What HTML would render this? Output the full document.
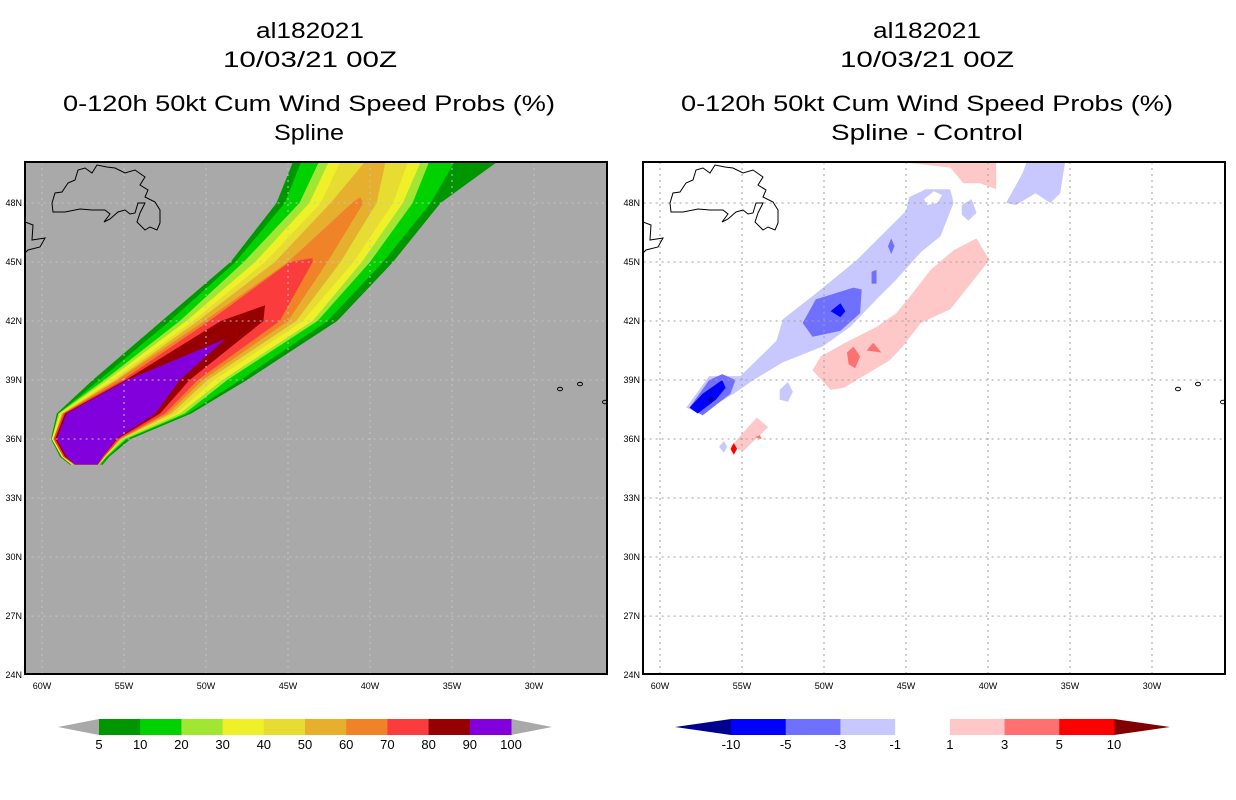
<!DOCTYPE html>
<html><head><meta charset="utf-8">
<style>
html,body{margin:0;padding:0;background:#fff;}
svg{display:block;font-family:"Liberation Sans",sans-serif;}
</style></head>
<body>
<svg id="fig" width="1236" height="800" viewBox="0 0 1236 800" xmlns="http://www.w3.org/2000/svg">
<defs>
<clipPath id="clipL"><rect x="25" y="162" width="582" height="512"/></clipPath>
<clipPath id="clipR"><rect x="643" y="162" width="582" height="512"/></clipPath>
</defs>
<g font-size="22" fill="#000" text-anchor="middle">
<text x="310" y="38" textLength="108" lengthAdjust="spacingAndGlyphs">al182021</text>
<text x="310" y="67" textLength="174" lengthAdjust="spacingAndGlyphs">10/03/21 00Z</text>
<text x="309" y="111" textLength="492" lengthAdjust="spacingAndGlyphs">0-120h 50kt Cum Wind Speed Probs (%)</text>
<text x="309" y="140" textLength="70" lengthAdjust="spacingAndGlyphs">Spline</text>
</g>
<g font-size="22" fill="#000" text-anchor="middle">
<text x="927" y="38" textLength="108" lengthAdjust="spacingAndGlyphs">al182021</text>
<text x="927" y="67" textLength="174" lengthAdjust="spacingAndGlyphs">10/03/21 00Z</text>
<text x="927" y="111" textLength="492" lengthAdjust="spacingAndGlyphs">0-120h 50kt Cum Wind Speed Probs (%)</text>
<text x="927" y="140" textLength="192" lengthAdjust="spacingAndGlyphs">Spline - Control</text>
</g>
<rect x="25" y="162" width="582" height="512" fill="#a9a9a9"/>
<rect x="643" y="162" width="582" height="512" fill="#fff"/>
<g id="leftFill" clip-path="url(#clipL)"></g>
<g id="rightFill" clip-path="url(#clipR)"></g>
<g id="leftGrid" clip-path="url(#clipL)"></g>
<g id="rightGrid" clip-path="url(#clipR)"></g>
<g id="coastL" clip-path="url(#clipL)"></g>
<g id="coastR" clip-path="url(#clipR)"></g>
<rect x="25" y="162" width="582" height="512" fill="none" stroke="#000" stroke-width="2"/>
<rect x="643" y="162" width="582" height="512" fill="none" stroke="#000" stroke-width="2"/>
<g id="axes" font-size="9" fill="#000"></g>
<g id="cbarL"></g>
<g id="cbarR"></g>
</svg>
<script>
// ---- axes data ----
const lonTicks=[-60,-55,-50,-45,-40,-35,-30];
const latTicks=[48,45,42,39,36,33,30,27,24];
// ---- left panel: probability swath, edge longitudes at latitude rows ----
const probLevels=[5,10,20,30,40,50,60,70,80,90];
const rowLats=[34.7,35.1,36.0,37.3,39,42,45,48,50.3];
const west5=[-58.3,-58.9,-59.45,-59.1,-56.9,-52.7,-48.5,-45.7,-44.6];
const east5=[-56.3,-55.9,-54.6,-50.9,-47.5,-42.0,-38.6,-35.7,-31.9];
const west10=[-58.2,-58.8,-59.4,-59.0,-56.5,-52.2,-48.2,-45.2,-44.1];
const east10=[-56.4,-56.0,-54.8,-51.1,-47.9,-42.6,-39.2,-36.3,-34.7];
const west20=[-58.2,-58.8,-59.4,-59.0,-56.2,-51.6,-47.7,-44.3,-43.0];
const east20=[-56.5,-56.1,-54.9,-51.3,-48.7,-43.2,-40.0,-37.4,-36.3];
const west30=[-58.2,-58.8,-59.4,-58.9,-56.0,-51.2,-47.0,-43.7,-42.4];
const east30=[-56.5,-56.1,-55.1,-51.6,-49.0,-43.5,-40.5,-38.0,-36.8];
const west40=[-58.1,-58.7,-59.3,-58.8,-55.7,-50.8,-46.4,-43.0,-41.7];
const east40=[-56.5,-56.2,-55.1,-51.8,-49.5,-44.1,-41.0,-38.6,-37.6];
const west50=[-58.1,-58.7,-59.3,-58.8,-55.5,-50.5,-45.8,-42.4,-40.1];
const east50=[-56.5,-56.2,-55.2,-52.1,-49.9,-44.5,-41.8,-39.6,-39.0];
const west60=[-58.0,-58.7,-59.3,-58.7,-55.4,-50.1,-45.0,-41.1];
const east60=[-56.6,-56.2,-55.2,-52.3,-50.2,-45.0,-42.6,-40.4];
const tip60=[-40.6,48.3];
const west70=[-58.0,-58.7,-59.3,-58.7,-55.1,-49.8,-44.9];
const east70=[-56.6,-56.2,-55.3,-52.5,-50.5,-45.5,-43.5];
const tip70=[-43.5,45.2];
const west80=[-58.0,-58.6,-59.2,-58.6,-54.9,-49.1];
const east80=[-56.6,-56.3,-55.4,-52.8,-51.0,-46.5];
const tip80=[-46.4,42.8];
const west90=[-58.0,-58.5,-59.1,-58.5,-54.8];
const east90=[-56.6,-56.3,-55.5,-53.1,-51.6];
const tip90=[-48.8,41.1];
// ---- right panel: difference blobs ----
const diffLevels=[-10,-5,-3,-1,1,3,5,10];
const negBand=[[-58.4,37.6],[-57.0,39.2],[-55.1,39.2],[-53.5,40.5],[-52.9,41.0],[-52.5,42.1],[-50.5,43.4],[-48.0,45.1],[-45.0,47.6],[-44.8,48.3],[-43.8,48.7],[-42.3,48.7],[-42.1,48.0],[-42.9,46.3],[-44.1,45.5],[-45.6,44.1],[-46.8,43.1],[-48.4,41.7],[-50.1,40.7],[-52.5,39.9],[-54.3,39.0],[-55.5,38.3],[-57.6,37.3]];
const negHole=[[-43.9,48.2],[-43.3,48.6],[-42.8,48.4],[-43.1,48.0],[-43.7,47.9]];
const negNE=[[-38.9,48.0],[-37.9,49.5],[-37.4,50.6],[-35.2,50.6],[-35.6,48.5],[-36.2,48.0],[-37.1,48.5],[-38.3,47.9]];
const negSmallA=[[-41.6,47.9],[-41.0,48.2],[-40.7,47.5],[-41.2,47.1],[-41.6,47.4]];
const negSmallB=[[-52.7,38.5],[-52.2,38.9],[-51.9,38.4],[-52.2,37.9],[-52.7,38.0]];
const neg3Mid=[[-51.3,41.9],[-50.5,43.1],[-48.2,43.7],[-47.7,43.6],[-47.8,42.4],[-49.0,41.5],[-50.7,41.2]];
const neg3SW=[[-58.2,37.6],[-57.0,39.0],[-56.2,39.3],[-55.4,39.0],[-55.7,38.3],[-57.4,37.2]];
const neg3DotA=[[-46.1,45.8],[-45.9,46.2],[-45.7,45.8],[-45.9,45.4]];
const neg3DotB=[[-47.1,44.5],[-46.8,44.6],[-46.8,43.9],[-47.1,43.9]];
const neg5Mid=[[-49.6,42.5],[-49.0,42.9],[-48.7,42.5],[-49.0,42.2]];
const neg5SW=[[-58.2,37.6],[-57.4,38.3],[-56.2,39.0],[-56.0,38.6],[-56.6,38.0],[-57.7,37.3]];
const neg10SW=[[-57.1,38.0],[-56.9,38.2],[-56.7,38.0],[-56.9,37.8]];
const posBand=[[-50.7,39.5],[-50.2,40.2],[-48.7,40.9],[-46.8,41.7],[-45.6,42.4],[-44.8,43.2],[-43.5,44.6],[-42.1,45.6],[-40.7,46.2],[-39.9,45.1],[-42.3,42.6],[-44.1,41.9],[-45.2,40.7],[-46.0,40.0],[-48.8,38.6],[-49.6,38.5]];
const posSW=[[-55.7,35.6],[-54.1,37.1],[-53.4,36.6],[-54.9,35.4]];
const posTop=[[-45.8,50.6],[-39.5,50.6],[-39.5,48.7],[-40.5,49.0],[-41.5,49.0],[-42.3,49.8],[-45.5,50.1]];
const pos3A=[[-48.6,40.4],[-48.2,40.7],[-47.8,40.2],[-48.1,39.6],[-48.5,39.8]];
const pos3B=[[-47.4,40.5],[-47.0,40.9],[-46.5,40.4]];
const pos3SW=[[-54.2,36.1],[-53.9,36.2],[-53.8,36.0]];
const pos5SW=[[-55.7,35.5],[-55.5,35.8],[-55.3,35.5],[-55.5,35.2]];
const negSW1=[[-56.4,35.6],[-56.1,35.9],[-55.9,35.6],[-56.1,35.3]];

const NS='http://www.w3.org/2000/svg';
function xL(lon){return 42+(lon+60)*16.4;}
function xR(lon){return 660+(lon+60)*16.4;}
function yLat(lat){return 203+(48-lat)*19.67;}
function poly(parent,pts,fx,fill,name){
  const p=document.createElementNS(NS,'polygon');
  p.setAttribute('points',pts.map(q=>fx(q[0]).toFixed(1)+','+yLat(q[1]).toFixed(1)).join(' '));
  p.setAttribute('fill',fill);
  
  
  parent.appendChild(p);
}
const probColors=['#009600','#00d200','#a0e632','#f0f028','#e6dc32','#e6af2d','#f08228','#fa3c3c','#960000','#8200dc'];
const lf=document.getElementById('leftFill');
const wests=[west5,west10,west20,west30,west40,west50,west60,west70,west80,west90];
const easts=[east5,east10,east20,east30,east40,east50,east60,east70,east80,east90];
const tips=[null,null,null,null,null,null,tip60,tip70,tip80,tip90];
for(let i=0;i<probLevels.length;i++){
  const w=wests[i], e=easts[i];
  const ring=[];
  for(let k=0;k<w.length;k++) ring.push([w[k],rowLats[k]]);
  if(tips[i]) ring.push(tips[i]);
  for(let k=e.length-1;k>=0;k--) ring.push([e[k],rowLats[k]]);
  poly(lf,ring,xL,probColors[i],'contour-'+probLevels[i]);
}

const rf=document.getElementById('rightFill');
const diffColors=['#0000a0','#0000ff','#7070ff','#c8c8ff','#ffffff','#ffc8c8','#ff7070','#ff0000','#960000'];
poly(rf,negBand,xR,diffColors[3],'diff-neg1-band');
poly(rf,negHole,xR,'#fff','diff-hole');
poly(rf,negNE,xR,diffColors[3],'diff-neg1-ne');
poly(rf,negSmallA,xR,diffColors[3],'diff-neg1-small');
poly(rf,negSmallB,xR,diffColors[3],'diff-neg1-small');
poly(rf,negSW1,xR,diffColors[3],'diff-neg1-sw');
poly(rf,neg3Mid,xR,diffColors[2],'diff-neg3-mid');
poly(rf,neg3SW,xR,diffColors[2],'diff-neg3-sw');
poly(rf,neg3DotA,xR,diffColors[2],'diff-neg3-dot');
poly(rf,neg3DotB,xR,diffColors[2],'diff-neg3-dot');
poly(rf,neg5Mid,xR,diffColors[1],'diff-neg5-mid');
poly(rf,neg5SW,xR,diffColors[1],'diff-neg5-sw');
poly(rf,neg10SW,xR,diffColors[0],'diff-neg10-sw');
poly(rf,posBand,xR,diffColors[5],'diff-pos1-band');
poly(rf,posSW,xR,diffColors[5],'diff-pos1-sw');
poly(rf,posTop,xR,diffColors[5],'diff-pos1-top');
poly(rf,pos3A,xR,diffColors[6],'diff-pos3');
poly(rf,pos3B,xR,diffColors[6],'diff-pos3');
poly(rf,pos3SW,xR,diffColors[6],'diff-pos3-sw');
poly(rf,pos5SW,xR,diffColors[7],'diff-pos5-sw');

// gridlines
function grid(gid,fx,color){
  const g=document.getElementById(gid);
  lonTicks.forEach(l=>{
    const ln=document.createElementNS(NS,'line');
    ln.setAttribute('x1',fx(l));ln.setAttribute('x2',fx(l));
    ln.setAttribute('y1',162);ln.setAttribute('y2',674);
    ln.setAttribute('stroke',color);ln.setAttribute('stroke-dasharray','2 4');
    
    
    g.appendChild(ln);
  });
  latTicks.forEach(l=>{
    const ln=document.createElementNS(NS,'line');
    ln.setAttribute('y1',yLat(l));ln.setAttribute('y2',yLat(l));
    ln.setAttribute('x1',fx(-61));ln.setAttribute('x2',fx(-25));
    ln.setAttribute('stroke',color);ln.setAttribute('stroke-dasharray','2 4');
    
    
    g.appendChild(ln);
  });
}
grid('leftGrid',xL,'#c4c4c4');
grid('rightGrid',xR,'#a0a0a0');

// axis labels
const ax=document.getElementById('axes');
function txt(x,y,s,anchor,name){
  const t=document.createElementNS(NS,'text');
  t.setAttribute('x',x);t.setAttribute('y',y);
  t.setAttribute('text-anchor',anchor);
  t.textContent=s;
  
  
  ax.appendChild(t);
  return t;
}
[[xL,22],[xR,640]].forEach(([fx,lx])=>{
  lonTicks.forEach(l=>txt(fx(l),689,Math.abs(l)+'W','middle','lon-tick-label'));
  latTicks.forEach(l=>txt(lx,yLat(l)+3,l+'N','end','lat-tick-label'));
});

// coastline
const coastPath='M52,203 L53,212 L65,212 L80,209 L92,210 L105,210 L110,214 L104,222 L110,219 L118,212 L125,210 L130,214 L135,213 L138,203 L145,203 L140,213 L137,222 L145,230 L150,227 L157,230 L160,223 L160,210 L155,202 L145,197 L148,190 L140,185 L145,177 L135,170 L125,173 L115,168 L107,167 L97,165 L92,173 L85,168 L78,170 L75,180 L68,183 L62,192 L55,193 Z M25,222 L33,225 L32,240 L45,238 L40,247 L28,250 L25,253';
[['coastL',0],['coastR',618]].forEach(([id,dx])=>{
  const g=document.getElementById(id);
  const p=document.createElementNS(NS,'path');
  p.setAttribute('d',coastPath);
  p.setAttribute('transform','translate('+dx+',0)');
  p.setAttribute('fill','none');p.setAttribute('stroke','#000');p.setAttribute('stroke-width','1');
  
  
  g.appendChild(p);
  [[560,389],[580,384],[605,402]].forEach(c=>{
    const e=document.createElementNS(NS,'ellipse');
    e.setAttribute('cx',c[0]+dx);e.setAttribute('cy',c[1]);e.setAttribute('rx',2.5);e.setAttribute('ry',1.8);
    e.setAttribute('fill','none');e.setAttribute('stroke','#000');
    
    
    g.appendChild(e);
  });
});

// colorbars
const probTickLabels=['5','10','20','30','40','50','60','70','80','90','100'];
const diffTickLabels=['-10','-5','-3','-1','1','3','5','10'];
function cbar(id,x0,x1,colors,labels,triL,triR,wTri){
  const g=document.getElementById(id);
  const n=colors.length, w=(x1-x0)/n, y0=719, h=16;
  const tl=document.createElementNS(NS,'polygon');
  tl.setAttribute('points',(x0-wTri)+','+(y0+h/2)+' '+x0+','+y0+' '+x0+','+(y0+h));
  tl.setAttribute('fill',triL);
  
  
  g.appendChild(tl);
  const tr=document.createElementNS(NS,'polygon');
  tr.setAttribute('points',(x1+wTri)+','+(y0+h/2)+' '+x1+','+y0+' '+x1+','+(y0+h));
  tr.setAttribute('fill',triR);
  
  
  g.appendChild(tr);
  colors.forEach((c,i)=>{
    const r=document.createElementNS(NS,'rect');
    r.setAttribute('x',x0+i*w);r.setAttribute('y',y0);r.setAttribute('width',w+0.5);r.setAttribute('height',h);
    r.setAttribute('fill',c);
    
    
    g.appendChild(r);
  });
  labels.forEach((s,i)=>{
    const t=document.createElementNS(NS,'text');
    t.setAttribute('x',x0+i*w);t.setAttribute('y',749);t.setAttribute('text-anchor','middle');
    t.setAttribute('font-size','13');
    t.textContent=s;
    
    
    g.appendChild(t);
  });
}
cbar('cbarL',99,511,probColors,probTickLabels,'#a9a9a9','#a9a9a9',41);
cbar('cbarR',731,1114,diffColors.slice(1,8),diffTickLabels,'#000090','#800000',56);
</script>
</body></html>
